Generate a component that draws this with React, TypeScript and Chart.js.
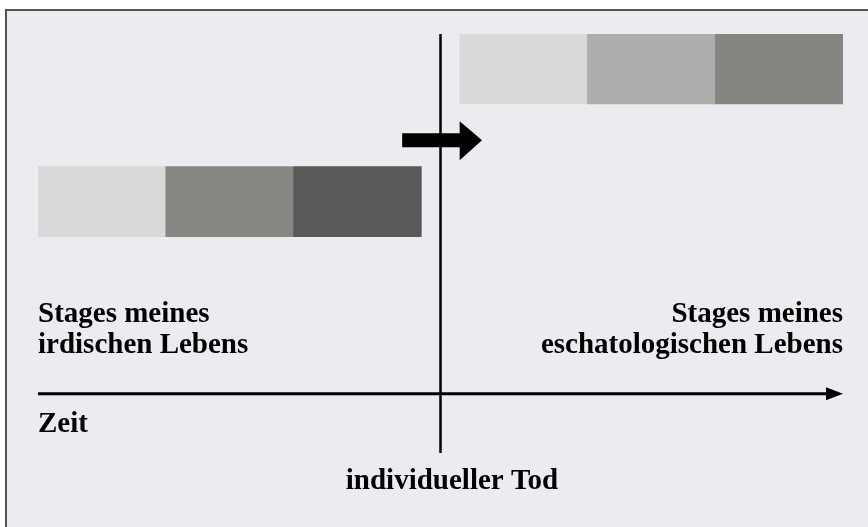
import React, { useEffect, useRef } from "react";
import { Chart, registerables } from "chart.js";

Chart.register(...registerables);

// ---- data (time units on x, diagram levels on y) ----
const earthlyStages: [number, number][] = [[0, 1], [1, 2], [2, 3]];
const eschatoStages: [number, number][] = [[3.3, 4.3], [4.3, 5.3], [5.3, 6.3]];
const earthlyLevel = 3.6;
const eschatoLevel = 5.5;
const earthlyColors = ["#d9d9d9", "#878784", "#595959"];
const eschatoColors = ["#d9d9d9", "#adadad", "#858582"];
const deathTime = 3.15;
const deathLineRange = [0, 6];
const timeAxisRange = [0, 6.3];
const timeAxisLevel = 0.85;
const transitionArrowX = [2.85, 3.3, 3.475]; // shaft start, head base, tip
const transitionArrowLevel = 4.48;
const earthlyLabel = ["Stages meines", "irdischen Lebens"];
const eschatoLabel = ["Stages meines", "eschatologischen Lebens"];
const labelLevels = [1.88, 1.43];
const timeLabel = "Zeit";
const timeLabelPos = [0, 0.3];
const deathLabel = "individueller Tod";
const deathLabelPos = [3.24, -0.52];

const FONT = 'bold 29px "Liberation Serif", "Times New Roman", serif';

const diagramPlugin = {
  id: "diagram",
  afterDatasetsDraw(chart: any) {
    const ctx = chart.ctx;
    const xs = chart.scales.x;
    const ys = chart.scales.y;
    const px = (v: number) => xs.getPixelForValue(v);
    const py = (v: number) => ys.getPixelForValue(v);
    ctx.save();
    ctx.fillStyle = "#000";

    // time axis arrow head
    const tipX = px(timeAxisRange[1]);
    const ay = py(timeAxisLevel);
    ctx.beginPath();
    ctx.moveTo(tipX, ay);
    ctx.lineTo(tipX - 17, ay - 6.5);
    ctx.lineTo(tipX - 17, ay + 6.5);
    ctx.closePath();
    ctx.fill();

    // transition arrow
    const y0 = py(transitionArrowLevel);
    const s = px(transitionArrowX[0]);
    const b = px(transitionArrowX[1]);
    const t = px(transitionArrowX[2]);
    ctx.beginPath();
    ctx.moveTo(s, y0 - 7);
    ctx.lineTo(b, y0 - 7);
    ctx.lineTo(b, y0 - 19);
    ctx.lineTo(t, y0);
    ctx.lineTo(b, y0 + 20);
    ctx.lineTo(b, y0 + 7);
    ctx.lineTo(s, y0 + 7);
    ctx.closePath();
    ctx.fill();

    // texts
    ctx.font = FONT;
    ctx.textBaseline = "alphabetic";
    ctx.textAlign = "left";
    earthlyLabel.forEach((l, i) => ctx.fillText(l, px(0), py(labelLevels[i])));
    ctx.fillText(timeLabel, px(timeLabelPos[0]), py(timeLabelPos[1]));
    ctx.textAlign = "right";
    eschatoLabel.forEach((l, i) => ctx.fillText(l, px(timeAxisRange[1]), py(labelLevels[i])));
    ctx.textAlign = "center";
    ctx.fillText(deathLabel, px(deathLabelPos[0]), py(deathLabelPos[1]));
    ctx.restore();
  },
};

export default function App() {
  const ref = useRef<HTMLCanvasElement>(null);
  useEffect(() => {
    document.body.style.margin = "0";
    const bars = [
      ...earthlyStages.map((r, i) => ({ x: r, y: earthlyLevel, c: earthlyColors[i] })),
      ...eschatoStages.map((r, i) => ({ x: r, y: eschatoLevel, c: eschatoColors[i] })),
    ];
    const chart = new Chart(ref.current!, {
      type: "bar",
      data: {
        datasets: [
          {
            type: "bar",
            data: bars.map((b) => ({ x: b.x, y: b.y })) as any,
            backgroundColor: bars.map((b) => b.c),
            borderWidth: 0,
            barThickness: 70,
            grouped: false,
          } as any,
          {
            type: "line",
            data: deathLineRange.map((v) => ({ x: deathTime, y: v })),
            borderColor: "#000",
            borderWidth: 2.5,
            pointRadius: 0,
            fill: false,
          } as any,
          {
            type: "line",
            data: [timeAxisRange[0], timeAxisRange[1] - 0.1].map((v) => ({ x: v, y: timeAxisLevel })),
            borderColor: "#000",
            borderWidth: 3,
            pointRadius: 0,
            fill: false,
          } as any,
        ],
      },
      options: {
        indexAxis: "y",
        animation: false,
        responsive: false,
        maintainAspectRatio: false,
        layout: { padding: { left: 38, right: 25, top: 34, bottom: 74 } },
        scales: {
          x: { type: "linear", min: 0, max: 6.3, offset: false, display: false },
          y: { type: "linear", min: 0, max: 6, offset: false, display: false },
        },
        plugins: { legend: { display: false }, tooltip: { enabled: false } },
      },
      plugins: [diagramPlugin],
    });
    return () => chart.destroy();
  }, []);

  return (
    <div style={{ position: "fixed", left: 0, top: 0, width: 868, height: 527, background: "#fff" }}>
      <div
        style={{
          position: "absolute",
          left: 5,
          top: 9,
          right: 0,
          bottom: 0,
          background: "#ecebf0",
          borderLeft: "2px solid #555",
          borderTop: "2px solid #555",
        }}
      />
      <canvas ref={ref} width={868} height={527} style={{ position: "absolute", left: 0, top: 0 }} />
    </div>
  );
}
